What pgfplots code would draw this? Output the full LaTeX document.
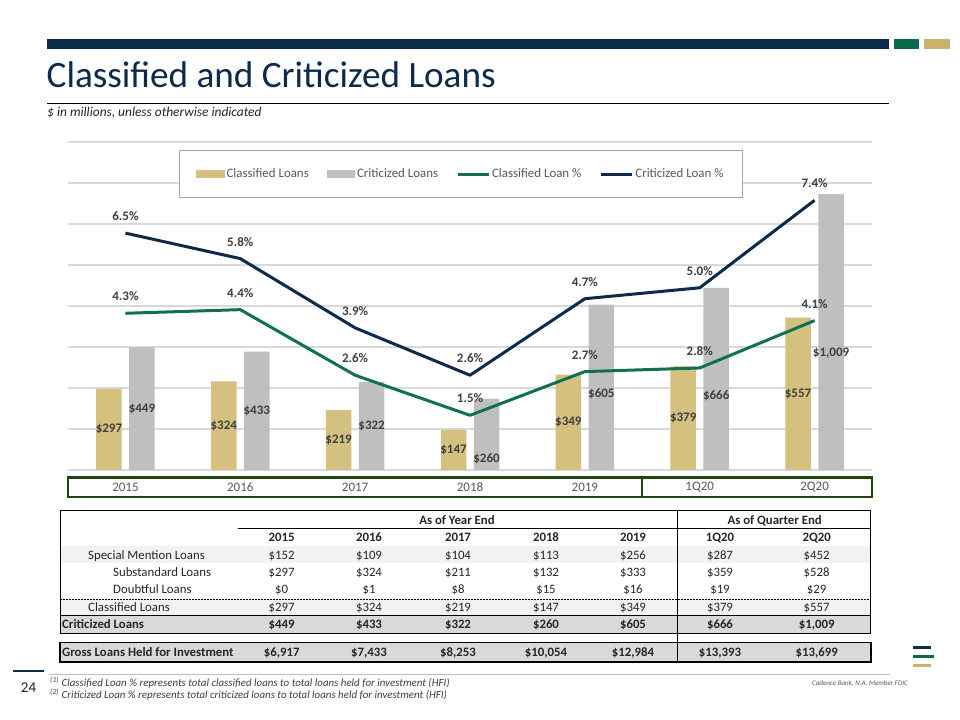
\documentclass[border=0pt]{standalone}
\usepackage{fontspec}
\setmainfont{Carlito}
\usepackage{pgfplots}
\pgfplotsset{compat=1.18}
\definecolor{navy}{HTML}{0D2A4B}
\definecolor{lgreen}{HTML}{117052}
\definecolor{goldbar}{HTML}{D4C07F}
\definecolor{graybar}{HTML}{BFBFBF}
\definecolor{hdrgreen}{HTML}{0B6A4E}
\definecolor{hdrgold}{HTML}{C8B368}
\definecolor{boxgreen}{HTML}{234512}
\definecolor{gridgray}{HTML}{D9D9D9}
\definecolor{txtgray}{HTML}{595959}
\definecolor{lblgray}{HTML}{3F3F3F}
\definecolor{shadeA}{HTML}{F2F2F2}
\definecolor{shadeB}{HTML}{D9D9D9}
\definecolor{tabtxt}{HTML}{262626}
\definecolor{legendgray}{HTML}{A6A6A6}
\newcommand{\fsz}[1]{\fontsize{#1bp}{#1bp}\selectfont}
\tikzset{blbl/.style={font=\bfseries\fsz{13}, text=lblgray, inner sep=0pt, anchor=center}}
\newcommand{\trow}[8]{%
  \node at (281.7,#1){#2};\node at (369,#1){#3};\node at (458,#1){#4};\node at (546,#1){#5};%
  \node at (633,#1){#6};\node at (720,#1){#7};\node at (816.7,#1){#8};}
\begin{document}
\begin{tikzpicture}
\useasboundingbox (0,0) rectangle (960bp,720bp);
\fill[white] (0,0) rectangle (960bp,720bp);
\begin{scope}[x=1bp,y=-1bp,shift={(0bp,720bp)}]
% header
\fill[navy] (47,39.5) rectangle (889,49.5);
\fill[hdrgreen] (893.5,39.5) rectangle (919,49.5);
\fill[hdrgold] (923.5,39.5) rectangle (950,49.5);
\node[anchor=base west, inner sep=0pt, text=navy, font=\fsz{37.2}] at (46.5,88) {Classified and Criticized Loans};
\draw[black, line width=0.8bp] (47,103) -- (889,103);
\node[anchor=base west, inner sep=0pt, text=tabtxt, font=\itshape\fsz{13.4}] at (47,117) {\$ in millions, unless otherwise indicated};
% tick label box
\draw[boxgreen, line width=2.5bp] (68,477.5) rectangle (872,497);
\draw[boxgreen, line width=2.5bp] (642,477.5) -- (642,497);
% table shading
\fill[shadeA] (60,545.7) rectangle (870,563.5);
\fill[shadeA] (60,599.5) rectangle (870,615);
\fill[shadeB] (60,615) rectangle (870,633.3);
\fill[shadeB] (60,642.5) rectangle (871,662);
% table lines
\draw[black, line width=0.8bp] (60,510.7) rectangle (870,633.3);
\draw[black, line width=0.8bp] (237.7,528.3) -- (870,528.3);
\draw[black, line width=0.8bp] (60,615) -- (870,615);
\draw[black, line width=0.8bp, dash pattern=on 1.5bp off 1.5bp] (60,599) -- (870,599);
\draw[black, line width=0.8bp] (677,510.7) -- (677,662);
\draw[black, line width=1.8bp] (60,642.5) rectangle (871,662);
% table text
\begin{scope}[every node/.style={anchor=base, inner sep=0pt, text=tabtxt, font=\bfseries\fsz{12.8}}]
\node at (457,524.2) {As of Year End};
\node at (774.7,524.2) {As of Quarter End};
\trow{541.5}{2015}{2016}{2017}{2018}{2019}{1Q20}{2Q20}
\trow{628.2}{\$449}{\$433}{\$322}{\$260}{\$605}{\$666}{\$1,009}
\trow{656.7}{\$6,917}{\$7,433}{\$8,253}{\$10,054}{\$12,984}{\$13,393}{\$13,699}
\node[anchor=base west] at (62,628.2) {Criticized Loans};
\node[anchor=base west] at (62,656.7) {Gross Loans Held for Investment};
\end{scope}
\begin{scope}[every node/.style={anchor=base, inner sep=0pt, text=tabtxt, font=\fsz{12.8}}]
\trow{559.7}{\$152}{\$109}{\$104}{\$113}{\$256}{\$287}{\$452}
\trow{576.7}{\$297}{\$324}{\$211}{\$132}{\$333}{\$359}{\$528}
\trow{593.7}{\$0}{\$1}{\$8}{\$15}{\$16}{\$19}{\$29}
\trow{611.2}{\$297}{\$324}{\$219}{\$147}{\$349}{\$379}{\$557}
\node[anchor=base west] at (88,559.7) {Special Mention Loans};
\node[anchor=base west] at (113,576.7) {Substandard Loans};
\node[anchor=base west] at (113,593.7) {Doubtful Loans};
\node[anchor=base west] at (88,611.2) {Classified Loans};
\end{scope}
% footer
\draw[navy, line width=2.5bp] (13,671) -- (44,671);
\node[anchor=base, inner sep=0pt, text=navy, font=\fsz{15}] at (28.5,692.5) {24};
\draw[graybar, line width=0.8bp] (49,674.5) -- (890,674.5);
\node[anchor=base west, inner sep=0pt, text=lblgray, font=\itshape\fsz{10.9}] at (50,686.5) {\textsuperscript{(1)} Classified Loan \% represents total classified loans to total loans held for investment (HFI)};
\node[anchor=base west, inner sep=0pt, text=lblgray, font=\itshape\fsz{10.9}] at (50,698.5) {\textsuperscript{(2)} Criticized Loan \% represents total criticized loans to total loans held for investment (HFI)};
\node[anchor=base west, inner sep=0pt, text=txtgray, font=\itshape\fsz{7}] at (812,686) {Cadence Bank, N.A. Member FDIC};
\fill[navy] (913,646.5) rectangle (931,649.5);
\fill[hdrgreen] (913,655) rectangle (934,658);
\fill[hdrgold] (913,663.7) rectangle (931,666.7);
\end{scope}

\begin{axis}[
  at={(68bp,250bp)}, anchor=south west, scale only axis,
  width=804bp, height=328bp,
  xmin=-0.5, xmax=6.5, ymin=0, ymax=1200,
  ytick={0,150,...,1200}, yticklabels={},
  ymajorgrids, major grid style={gridgray, line width=1.2bp},
  xtick={0,...,6}, xticklabels={2015,2016,2017,2018,2019,1Q20,2Q20},
  xticklabel style={anchor=center, yshift=-17bp, font=\fsz{13}, text=txtgray},
  axis line style={draw=none}, tick style={draw=none}, clip=false,
]
\addplot[ybar, bar width=25.5bp, bar shift=-16.5bp, fill=goldbar, draw=none]
  coordinates {(0,297) (1,324) (2,219) (3,147) (4,349) (5,379) (6,557)};
\addplot[ybar, bar width=25.5bp, bar shift=16.5bp, fill=graybar, draw=none]
  coordinates {(0,449) (1,433) (2,322) (3,260) (4,605) (5,666) (6,1009)};
\node[blbl, xshift=-16.5bp] at (axis cs:0,148.5) {\$297};
\node[blbl, xshift=-16.5bp] at (axis cs:1,162) {\$324};
\node[blbl, xshift=-16.5bp] at (axis cs:2,109.5) {\$219};
\node[blbl, xshift=-16.5bp] at (axis cs:3,73.5) {\$147};
\node[blbl, xshift=-16.5bp] at (axis cs:4,174.5) {\$349};
\node[blbl, xshift=-16.5bp] at (axis cs:5,189.5) {\$379};
\node[blbl, xshift=-16.5bp] at (axis cs:6,278.5) {\$557};
\node[blbl, xshift=16.5bp] at (axis cs:0,224.5) {\$449};
\node[blbl, xshift=16.5bp] at (axis cs:1,216.5) {\$433};
\node[blbl, xshift=16.5bp] at (axis cs:2,161) {\$322};
\node[blbl, xshift=16.5bp] at (axis cs:3,40) {\$260};
\node[blbl, xshift=16.5bp] at (axis cs:4,278) {\$605};
\node[blbl, xshift=16.5bp] at (axis cs:5,271) {\$666};
\node[blbl, xshift=16.5bp] at (axis cs:6,428) {\$1,009};
\end{axis}

\begin{axis}[
  at={(68bp,250bp)}, anchor=south west, scale only axis,
  width=804bp, height=328bp,
  xmin=-0.5, xmax=6.5, ymin=0, ymax=9,
  hide axis, clip=false,
  legend columns=4, legend cell align=left,
  legend style={at={(0.4888,0.9024)}, anchor=center, draw=legendgray, line width=1.2bp,
    font=\fsz{12.9}, text=txtgray, inner xsep=17bp, inner ysep=16bp,
    /tikz/every even column/.append style={column sep=16bp}},
]
\addlegendimage{legend image code/.code={\fill[goldbar] (0bp,-3.5bp) rectangle (27bp,3.5bp);}}
\addlegendentry{Classified Loans}
\addlegendimage{legend image code/.code={\fill[graybar] (0bp,-3.5bp) rectangle (27bp,3.5bp);}}
\addlegendentry{Criticized Loans}
\addplot[lgreen, line width=3bp, line join=round,
  legend image code/.code={\draw[lgreen, line width=3bp] (0bp,0bp) -- (31bp,0bp);},
  nodes near coords, point meta=explicit symbolic,
  every node near coord/.append style={font=\bfseries\fsz{13}, text=lblgray, anchor=center, yshift=17bp}]
  coordinates {(0,4.3) [4.3\%] (1,4.4) [4.4\%] (2,2.6) [2.6\%] (3,1.5) [1.5\%] (4,2.7) [2.7\%] (5,2.8) [2.8\%] (6,4.1) [4.1\%]};
\addlegendentry{Classified Loan \%}
\addplot[navy, line width=3bp, line join=round,
  legend image code/.code={\draw[navy, line width=3bp] (0bp,0bp) -- (31bp,0bp);},
  nodes near coords, point meta=explicit symbolic,
  every node near coord/.append style={font=\bfseries\fsz{13}, text=lblgray, anchor=center, yshift=17bp}]
  coordinates {(0,6.5) [6.5\%] (1,5.8) [5.8\%] (2,3.9) [3.9\%] (3,2.6) [2.6\%] (4,4.7) [4.7\%] (5,5.0) [5.0\%] (6,7.4) [7.4\%]};
\addlegendentry{Criticized Loan \%}
\end{axis}
\end{tikzpicture}
\end{document}
